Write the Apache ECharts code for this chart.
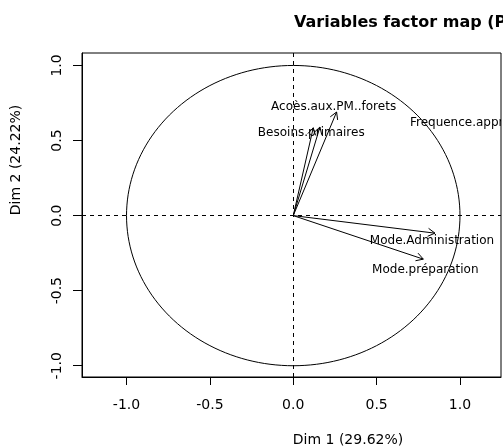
<!DOCTYPE html>
<html><head><meta charset="utf-8">
<script src="https://cdn.jsdelivr.net/npm/echarts@6/dist/echarts.min.js"></script>
<style>html,body{margin:0;padding:0;background:#fff}#c{width:503px;height:447px}</style>
</head><body><div id="c"></div>
<script>
// ---- data ----
const variables = ['Acoès.aux.PM..forets', 'Besoins.primaires', 'Frequence.approvisionnement', 'Mode.Administration', 'Mode.préparation'];
const dim1 = [0.26, 0.12, 0.16, 0.85, 0.78];
const dim2 = [0.69, 0.585, 0.59, -0.117, -0.29];
const tickValues = [-1.0, -0.5, 0.0, 0.5, 1.0];
const tickLabels = ['-1.0', '-0.5', '0.0', '0.5', '1.0'];
const chartTitle = 'Variables factor map (PCA)';
const xAxisTitle = 'Dim 1 (29.62%)';
const yAxisTitle = 'Dim 2 (24.22%)';

// ---- layout (label placement, pixel offsets from arrow tips) ----
const labelOffset = [[-3, -5, 'center'], [-2, 5, 'center'], [90, -4, 'left'], [-3, 8, 'center'], [2, 11, 'center']];
const FONT = 'DejaVu Sans';

function tickLabel(v) {
  let best = 0;
  for (let i = 0; i < tickValues.length; i++) if (Math.abs(tickValues[i] - v) < Math.abs(tickValues[best] - v)) best = i;
  return tickLabels[best];
}

const chart = echarts.init(document.getElementById('c'), null, {renderer: 'canvas'});
const arrowData = dim1.map((x, i) => [x, dim2[i]]);

chart.setOption({
  animation: false,
  backgroundColor: '#fff',
  title: {
    text: chartTitle, left: 289, top: 10,
    textStyle: {fontFamily: FONT, fontSize: 16, fontWeight: 'bold', color: '#000'}
  },
  grid: {left: 82, right: 2, top: 53, bottom: 70, show: true, borderColor: '#000', borderWidth: 1, backgroundColor: 'transparent'},
  xAxis: {
    type: 'value', min: -1.267, max: 1.246,
    splitLine: {show: false},
    axisLine: {show: true, onZero: false, lineStyle: {color: '#000'}},
    axisTick: {show: true, length: 8, customValues: tickValues, lineStyle: {color: '#000'}},
    axisLabel: {customValues: tickValues, formatter: tickLabel, margin: 21, fontFamily: FONT, fontSize: 14, color: '#000'}
  },
  yAxis: {
    type: 'value', min: -1.075, max: 1.083,
    splitLine: {show: false},
    axisLine: {show: true, onZero: false, lineStyle: {color: '#000'}},
    axisTick: {show: true, length: 9, customValues: tickValues, lineStyle: {color: '#000'}},
    axisLabel: {customValues: tickValues, formatter: tickLabel, rotate: 90, margin: 18, fontFamily: FONT, fontSize: 14, color: '#000'}
  },
  graphic: [
    {type: 'text', x: 348, y: 440, style: {text: xAxisTitle, fontFamily: FONT, fontSize: 14, fill: '#000', align: 'center', verticalAlign: 'middle'}},
    {type: 'text', x: 16, y: 160, rotation: Math.PI / 2, style: {text: yAxisTitle, fontFamily: FONT, fontSize: 14, fill: '#000', align: 'center', verticalAlign: 'middle'}}
  ],
  series: [
    {
      type: 'custom', name: 'circle', silent: true, clip: true,
      data: [[0, 0]],
      renderItem: function (params, api) {
        const pts = [];
        for (let d = 0; d <= 360; d += 2) {
          const t = d * Math.PI / 180;
          pts.push(api.coord([Math.cos(t), Math.sin(t)]));
        }
        return {type: 'polyline', shape: {points: pts}, style: {stroke: '#000', fill: null, lineWidth: 1}};
      },
      markLine: {
        silent: true, symbol: 'none', label: {show: false},
        lineStyle: {color: '#000', type: [4, 4], width: 1},
        data: [{xAxis: 0}, {yAxis: 0}]
      }
    },
    {
      type: 'custom', name: 'variables', silent: true, clip: true,
      data: arrowData,
      renderItem: function (params, api) {
        const i = params.dataIndex;
        const o = api.coord([0, 0]);
        const t = api.coord([api.value(0), api.value(1)]);
        const ang = Math.atan2(t[1] - o[1], t[0] - o[0]);
        const L = 8, a = Math.PI / 6;
        const h1 = [t[0] - L * Math.cos(ang - a), t[1] - L * Math.sin(ang - a)];
        const h2 = [t[0] - L * Math.cos(ang + a), t[1] - L * Math.sin(ang + a)];
        const off = labelOffset[i];
        return {
          type: 'group', children: [
            {type: 'line', shape: {x1: o[0], y1: o[1], x2: t[0], y2: t[1]}, style: {stroke: '#000', lineWidth: 1}},
            {type: 'polyline', shape: {points: [h1, t, h2]}, style: {stroke: '#000', fill: null, lineWidth: 1}},
            {type: 'text', x: t[0] + off[0], y: t[1] + off[1], style: {text: variables[i], fontFamily: FONT, fontSize: 12, fill: '#000', align: off[2], verticalAlign: 'middle'}}
          ]
        };
      }
    }
  ]
});
</script>
</body></html>
